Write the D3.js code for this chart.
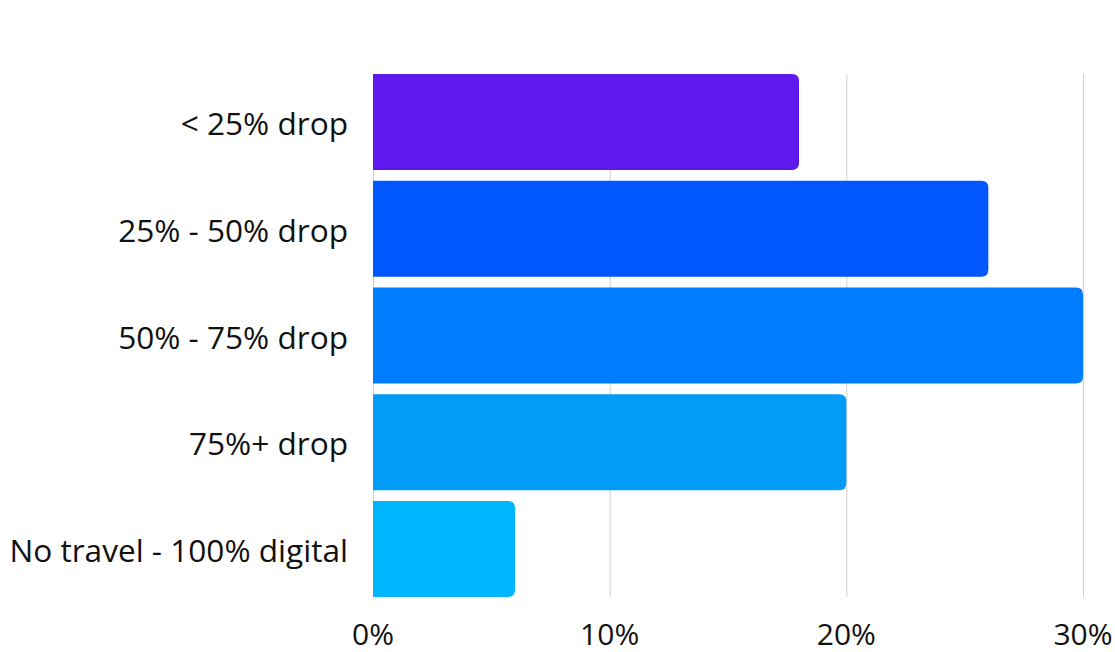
<!DOCTYPE html>
<html>
<head>
<meta charset="utf-8">
<script src="https://cdn.jsdelivr.net/npm/d3@7"></script>
<style>
  body { margin: 0; background: #fff; }
  text { font-family: "Open Sans", sans-serif; fill: #111; }
</style>
</head>
<body>
<svg width="1115" height="652"></svg>
<script>
var categories = ["< 25% drop", "25% - 50% drop", "50% - 75% drop", "75%+ drop", "No travel - 100% digital"],
    values = [18, 26, 30, 20, 6],
    colors = ["#5f19ed", "#0057ff", "#007dff", "#009cf7", "#00b6ff"],
    ticks = [0, 10, 20, 30];

var svg = d3.select("svg"),
    plotLeft = 373, plotRight = 1083, plotTop = 74, plotBottom = 597,
    radius = 7;

var x = d3.scaleLinear().domain([0, 30]).range([plotLeft, plotRight]);
var y = d3.scaleBand().domain(categories).range([plotTop, plotBottom]).paddingInner(0.1).paddingOuter(0);

// grid
svg.append("g").selectAll("line")
    .data(ticks)
    .enter().append("line")
    .attr("x1", function(d) { return x(d) + 0.5; })
    .attr("x2", function(d) { return x(d) + 0.5; })
    .attr("y1", plotTop)
    .attr("y2", plotBottom)
    .attr("stroke", "#d0d0d0")
    .attr("stroke-width", 1);

// bars: square left edge, rounded right corners
function barPath(d, i) {
    var x0 = x(0), x1 = x(d), y0 = y(categories[i]), h = y.bandwidth(), r = Math.min(radius, (x1 - x0) / 2);
    return "M" + x0 + "," + y0 +
        "H" + (x1 - r) +
        "Q" + x1 + "," + y0 + " " + x1 + "," + (y0 + r) +
        "V" + (y0 + h - r) +
        "Q" + x1 + "," + (y0 + h) + " " + (x1 - r) + "," + (y0 + h) +
        "H" + x0 + "Z";
}

svg.append("g").selectAll("path")
    .data(values)
    .enter().append("path")
    .attr("d", barPath)
    .attr("fill", function(d, i) { return colors[i]; });

// category labels
svg.append("g").selectAll("text")
    .data(categories)
    .enter().append("text")
    .attr("x", plotLeft - 25)
    .attr("y", function(d) { return y(d) + y.bandwidth() / 2 + 2; })
    .attr("dy", "0.35em")
    .attr("text-anchor", "end")
    .style("font-size", "31.6px")
    .text(function(d) { return d; });

// x tick labels
svg.append("g").selectAll("text")
    .data(ticks)
    .enter().append("text")
    .attr("x", function(d) { return x(d); })
    .attr("y", 645)
    .attr("text-anchor", "middle")
    .style("font-size", "30px")
    .text(function(d) { return d + "%"; });
</script>
</body>
</html>
